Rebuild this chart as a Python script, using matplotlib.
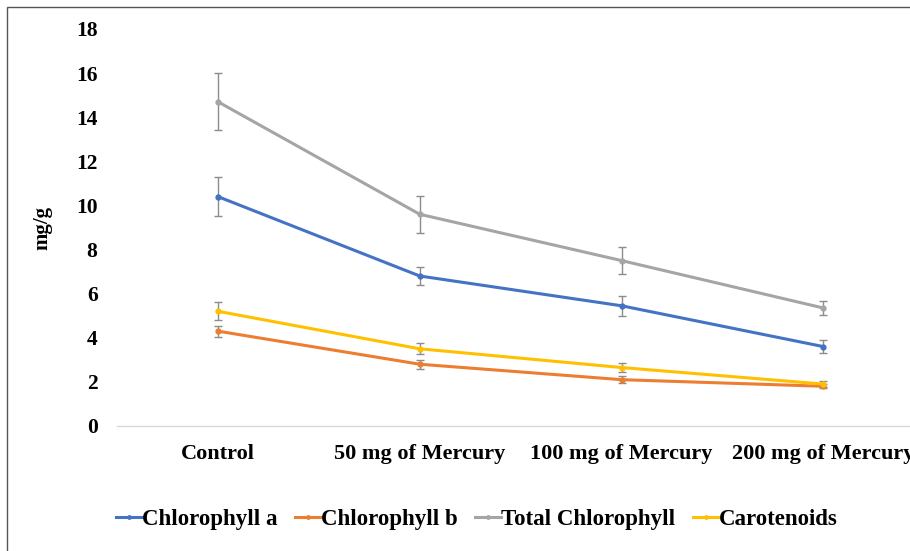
import numpy as np
import matplotlib.pyplot as plt
from matplotlib.patches import Rectangle

plt.rcParams['font.family'] = ['Liberation Serif', 'DejaVu Serif']
plt.rcParams['font.weight'] = 'bold'

categories = ['Control', '50 mg of Mercury', '100 mg of Mercury', '200 mg of Mercury']
chl_a = [10.4, 6.8, 5.45, 3.6]
chl_a_err = [0.9, 0.4, 0.45, 0.3]
chl_b = [4.3, 2.8, 2.1, 1.8]
chl_b_err = [0.25, 0.2, 0.15, 0.1]
total_chl = [14.7, 9.6, 7.5, 5.35]
total_chl_err = [1.3, 0.85, 0.6, 0.3]
carotenoids = [5.2, 3.5, 2.65, 1.9]
carotenoids_err = [0.4, 0.25, 0.2, 0.15]

series = [
    ('Chlorophyll a', chl_a, chl_a_err, '#4472C4'),
    ('Chlorophyll b', chl_b, chl_b_err, '#ED7D31'),
    ('Total Chlorophyll', total_chl, total_chl_err, '#A5A5A5'),
    ('Carotenoids', carotenoids, carotenoids_err, '#FFC000'),
]

fig = plt.figure(figsize=(9.1, 5.51), dpi=100)
ax = fig.add_axes([0.1286, 0.2269, 0.887, 0.7205])
x = np.arange(len(categories))

handles = []
for name, vals, errs, col in series:
    ax.errorbar(x, vals, yerr=errs, fmt='none', ecolor='#8c8c8c',
                elinewidth=1, capsize=3, capthick=1, zorder=2)
    h, = ax.plot(x, vals, color=col, lw=2.2, marker='o', ms=3.5,
                 label=name, zorder=3)
    handles.append(h)

ax.set_xlim(-0.5, len(categories) - 0.5)
ax.set_ylim(0, 18)
ax.set_yticks(range(0, 19, 2))
ax.set_xticks(x)
ax.set_xticklabels(categories)
for s in ['top', 'right', 'left']:
    ax.spines[s].set_visible(False)
ax.spines['bottom'].set_color('#d9d9d9')
ax.spines['bottom'].set_linewidth(1)
ax.tick_params(axis='y', length=0, pad=14, labelsize=15.5)
ax.tick_params(axis='x', length=0, pad=13, labelsize=16)
ax.set_ylabel('mg/g', fontsize=15, fontweight='bold', labelpad=17)

fig.legend(handles=handles, loc='center', bbox_to_anchor=(0.524, 0.058),
           ncol=4, frameon=False, fontsize=16.5, handlelength=1.15,
           handletextpad=0.0, columnspacing=0.75, markerscale=0.7)

fig.patches.append(Rectangle((7 / 910, -0.1), 1.2, 1 - 7 / 551 + 0.1,
                             transform=fig.transFigure, fill=False,
                             edgecolor='#555555', lw=1))

fig.savefig('out.png', dpi=100)
